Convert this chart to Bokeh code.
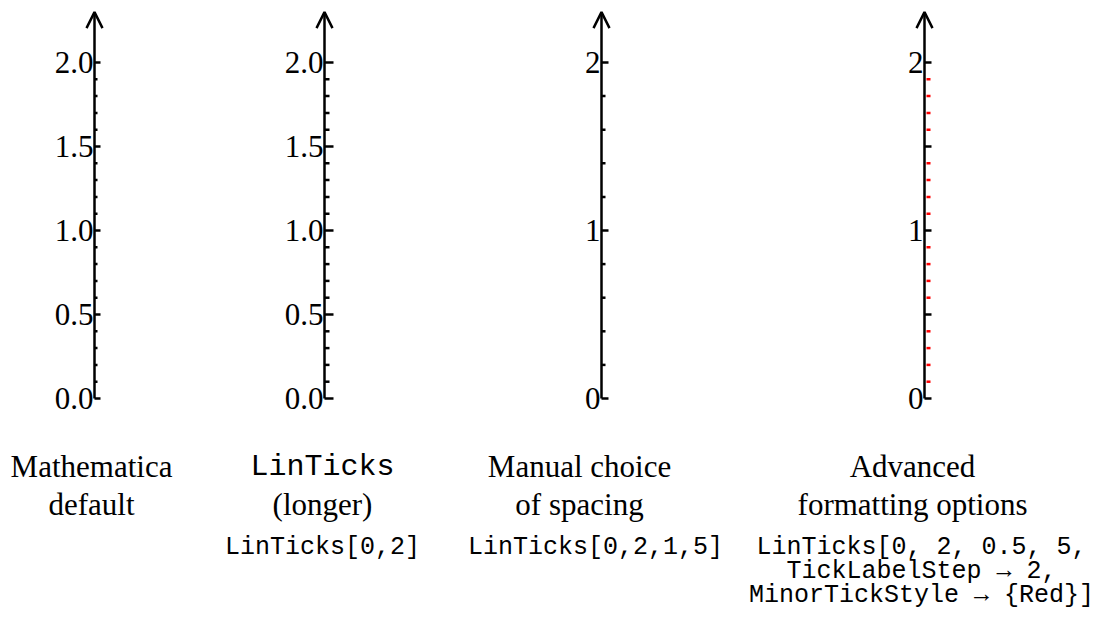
from bokeh.plotting import figure
from bokeh.models import Range1d, Arrow, OpenHead
from bokeh.core.properties import value
from bokeh.embed import file_html
from bokeh.resources import INLINE

# ---------------- data ----------------
axis_top = 2.3

a1_major = [0.0, 0.5, 1.0, 1.5, 2.0]
a1_labels = ["0.0", "0.5", "1.0", "1.5", "2.0"]
a1_minor = [0.1, 0.2, 0.3, 0.4, 0.6, 0.7, 0.8, 0.9, 1.1, 1.2, 1.3, 1.4,
            1.6, 1.7, 1.8, 1.9]

a2_major = [0.0, 0.5, 1.0, 1.5, 2.0]
a2_labels = ["0.0", "0.5", "1.0", "1.5", "2.0"]
a2_minor = [0.1, 0.2, 0.3, 0.4, 0.6, 0.7, 0.8, 0.9, 1.1, 1.2, 1.3, 1.4,
            1.6, 1.7, 1.8, 1.9]

a3_major = [0.0, 1.0, 2.0]
a3_labels = ["0", "1", "2"]
a3_minor = [0.2, 0.4, 0.6, 0.8, 1.2, 1.4, 1.6, 1.8]

a4_major = [0.0, 0.5, 1.0, 1.5, 2.0]
a4_label_vals = [0.0, 1.0, 2.0]
a4_labels = ["0", "1", "2"]
a4_minor = [0.1, 0.2, 0.3, 0.4, 0.6, 0.7, 0.8, 0.9, 1.1, 1.2, 1.3, 1.4,
            1.6, 1.7, 1.8, 1.9]

captions_serif = [
    ["Mathematica", "default"],
    [None, "(longer)"],
    ["Manual choice", "of spacing"],
    ["Advanced", "formatting options"],
]
captions_mono_top = [None, "LinTicks", None, None]
captions_code = [
    [],
    ["LinTicks[0,2]"],
    ["LinTicks[0,2,1,5]"],
    ["LinTicks[0, 2, 0.5, 5,", "TickLabelStep \u2192 2,", "MinorTickStyle \u2192 {Red}]"],
]

# ---------------- layout ----------------
W, H = 1096, 615
PX_PER_UNIT = 168.0
Y0_PX = 398.0  # inner-pixel y of value 0
ymax = Y0_PX / PX_PER_UNIT
ymin = ymax - H / PX_PER_UNIT

axis_x = [94, 324, 601, 924]
major_len = [6, 9, 7, 7]
minor_len = [3, 5, 4, 0]
cap_x = [91, 322, 579, 912]
code_x = [91, 322, 595, 921]
cap_y = [466, 504]
code_y = [547, 571, 595]

SERIF = "Liberation Serif"
MONO = "Liberation Mono"
FS_SERIF = "31px"
FS_LABEL = "31px"
FS_MONO_CAP = "30px"
FS_MONO = "25px"
LW = 2.5

p = figure(width=W, height=H, x_range=Range1d(0, W), y_range=Range1d(ymin, ymax),
           min_border=0, toolbar_location=None, output_backend="svg",
           x_axis_location=None, y_axis_location=None)
p.grid.visible = False
p.outline_line_color = None
p.extra_y_ranges = {"px": Range1d(start=H, end=0)}

axes = [
    (a1_major, a1_minor, a1_major, a1_labels),
    (a2_major, a2_minor, a2_major, a2_labels),
    (a3_major, a3_minor, a3_major, a3_labels),
    (a4_major, a4_minor, a4_label_vals, a4_labels),
]

for i, (maj, mino, lvals, labs) in enumerate(axes):
    ax = axis_x[i]
    # axis line with arrow
    p.add_layout(Arrow(end=OpenHead(size=16, line_width=LW, line_color="black"),
                       x_start=ax, y_start=0.0, x_end=ax, y_end=axis_top,
                       line_width=LW, line_color="black"))
    # major ticks
    p.segment(x0=[ax] * len(maj), y0=maj, x1=[ax + major_len[i]] * len(maj), y1=maj,
              line_color="black", line_width=LW)
    # minor ticks
    if i == 3:
        p.segment(x0=[ax + 2] * len(mino), y0=mino, x1=[ax + 6] * len(mino), y1=mino,
                  line_color="#ff0000", line_width=LW)
    else:
        p.segment(x0=[ax] * len(mino), y0=mino, x1=[ax + minor_len[i]] * len(mino), y1=mino,
                  line_color="black", line_width=LW)
    # labels
    p.text(x=[ax - 1] * len(lvals), y=lvals, text=labs,
           text_font=value(SERIF), text_font_size=FS_LABEL, text_color="black",
           text_align="right", text_baseline="middle")

# captions
for i, lines in enumerate(captions_serif):
    for j, t in enumerate(lines):
        if t is None:
            continue
        p.text(x=[cap_x[i]], y=[cap_y[j]], text=[t], y_range_name="px",
               text_font=value(SERIF), text_font_size=FS_SERIF, text_color="black",
               text_align="center", text_baseline="middle")
    if captions_mono_top[i]:
        p.text(x=[cap_x[i]], y=[cap_y[0]], text=[captions_mono_top[i]], y_range_name="px",
               text_font=value(MONO), text_font_size=FS_MONO_CAP, text_color="black",
               text_align="center", text_baseline="middle")
    for j, t in enumerate(captions_code[i]):
        p.text(x=[code_x[i]], y=[code_y[j]], text=[t], y_range_name="px",
               text_font=value(MONO), text_font_size=FS_MONO, text_color="black",
               text_align="center", text_baseline="middle")

open("out.html", "w").write(file_html(p, INLINE))
